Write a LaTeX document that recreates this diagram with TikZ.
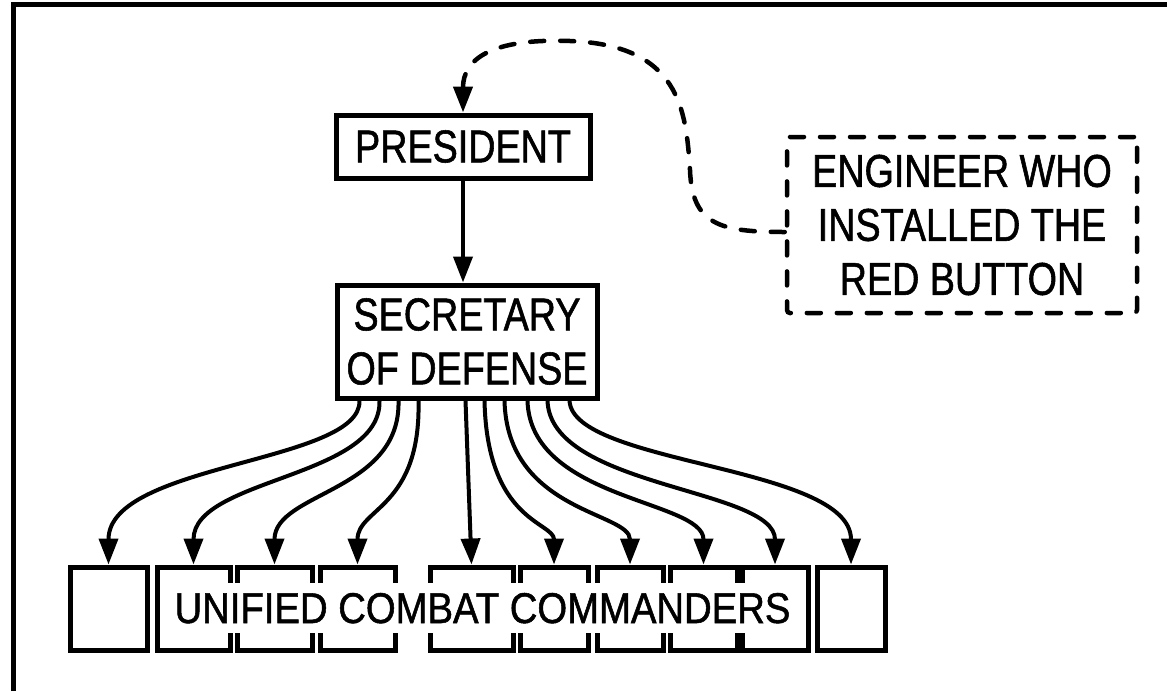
\documentclass[tikz,border=0pt]{standalone}
\usepackage{fontspec}
\setmainfont{Liberation Sans}[FakeStretch=0.82,FakeBold=1.2]
\newfontfamily\widefont{Liberation Sans}[FakeStretch=0.89,FakeBold=1.2]
\usetikzlibrary{arrows.meta}

\tikzset{
  box/.style={draw, line width=5pt, align=center, inner sep=0pt,
    font=\fontsize{46}{54}\selectfont},
  cmdbox/.style={draw, line width=5pt, minimum height=83pt, inner sep=0pt},
  link/.style={line width=4pt, -{Triangle[length=26pt,width=19pt]}},
  hint/.style={line width=4.5pt, line cap=round, dash pattern=on 14pt off 16pt},
}

\begin{document}
\begin{tikzpicture}[x=1pt,y=-1pt]
  \useasboundingbox (0,0) rectangle (1167,691);
  \draw[line width=5.5pt] (13.5,691) -- (13.5,4.5) -- (1167,4.5);

  % chain of command
  \node[box, minimum width=254pt, minimum height=63pt] (pres) at (463,146.5) {PRESIDENT};
  \node[box, minimum width=260pt, minimum height=113pt] (sec) at (467,341.5) {SECRETARY\\OF DEFENSE};
  \node[box, hint, rounded corners=3pt, minimum width=350pt, minimum height=176pt] (eng) at (962,225) {ENGINEER WHO\\INSTALLED THE\\RED BUTTON};

  \draw[link] (pres.south) -- (pres.south |- sec.north);
  \draw[hint, -{Triangle[length=26pt,width=19pt]}] ([yshift=-7pt]eng.west) .. controls (720,232) and (692,225) .. (690,170)
     .. controls (686,110) and (680,45) .. (570,41) .. controls (490,38) and (463,60) .. (pres.north);

  % commanders
  \node[cmdbox, minimum width=77pt] (c1) at (108.5,608.5) {};
  \node[cmdbox, minimum width=73pt] (c2) at (193.5,608.5) {};
  \node[cmdbox, minimum width=75pt] (c3) at (274.5,608.5) {};
  \node[cmdbox, minimum width=75pt] (c4) at (357.5,608.5) {};
  \node[cmdbox, minimum width=83pt] (c5) at (471.5,608.5) {};
  \node[cmdbox, minimum width=68pt] (c6) at (554,608.5) {};
  \node[cmdbox, minimum width=66pt] (c7) at (630,608.5) {};
  \node[cmdbox, minimum width=67pt] (c8) at (703.5,608.5) {};
  \node[cmdbox, minimum width=66pt] (c9) at (775,608.5) {};
  \node[cmdbox, minimum width=68pt] (c10) at (851,608.5) {};
  \node[fill=white, inner xsep=2pt, inner ysep=10pt, text height=30pt, text depth=0pt,
    font=\widefont\fontsize{43}{48}\selectfont] (ucc) at (482.5,608) {UNIFIED COMBAT COMMANDERS};

  \draw[link] ([xshift=25pt]sec.south west) .. controls (362,463) and (108.5,463) .. (c1.north);
  \draw[link] ([xshift=45pt]sec.south west) .. controls (382,478) and (193.5,478) .. (c2.north);
  \draw[link] ([xshift=64pt]sec.south west) .. controls (401,492) and (274.5,492) .. (c3.north);
  \draw[link] ([xshift=84pt]sec.south west) .. controls (421,508) and (357.5,508) .. (c4.north);
  \draw[link] ([xshift=131pt]sec.south west) -- (c5.north);
  \draw[link] ([xshift=150pt]sec.south west) .. controls (487,522) and (554,522) .. (c6.north);
  \draw[link] ([xshift=170pt]sec.south west) .. controls (507,512) and (630,512) .. (c7.north);
  \draw[link] ([xshift=193pt]sec.south west) .. controls (530,500) and (703.5,500) .. (c8.north);
  \draw[link] ([xshift=213pt]sec.south west) .. controls (550,488) and (775,488) .. (c9.north);
  \draw[link] ([xshift=235pt]sec.south west) .. controls (572,465) and (851,465) .. (c10.north);
\end{tikzpicture}
\end{document}
